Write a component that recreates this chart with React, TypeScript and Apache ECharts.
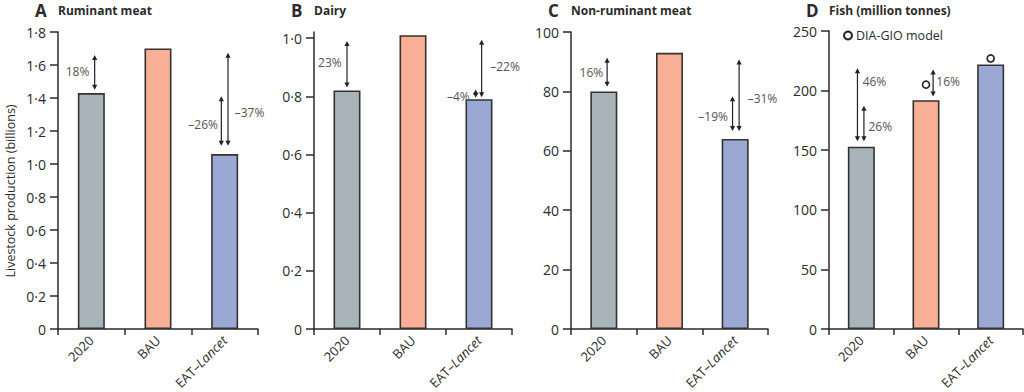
import React, { useEffect, useRef } from "react";
import * as echarts from "echarts";

const categories = ["2020", "BAU", "EAT–Lancet"];
const ruminantValues = [1.43, 1.7, 1.06];
const dairyValues = [0.82, 1.01, 0.79];
const nonRuminantValues = [80, 93, 64];
const fishValues = [153, 192, 222];
const fishDiaGio = [null, 205, 227];

const ticksA = [0, 0.2, 0.4, 0.6, 0.8, 1.0, 1.2, 1.4, 1.6, 1.8];
const ticksB = [0, 0.2, 0.4, 0.6, 0.8, 1.0];
const ticksC = [0, 20, 40, 60, 80, 100];
const ticksD = [0, 50, 100, 150, 200, 250];

// arrows: [x position (category units), lower y, upper y]
const arrowsA = [[0.05, 1.45, 1.66], [1.95, 1.11, 1.41], [2.05, 1.11, 1.675]];
const arrowsB = [[0, 0.83, 0.99], [1.95, 0.795, 0.823], [2.04, 0.797, 0.994]];
const arrowsC = [[0.05, 81.6, 91.3], [1.96, 66.7, 78.4], [2.06, 66.7, 90.7]];
const arrowsD = [[-0.06, 157.5, 218.7], [0.04, 157.5, 187.3], [1.11, 195, 217.8]];

// labels: [x, y, text, align]
const labelsA = [[-0.03, 1.56, "18%", "right"], [1.9, 1.24, "–26%", "right"], [2.15, 1.315, "–37%", "left"]];
const labelsB = [[-0.08, 0.915, "23%", "right"], [1.86, 0.8, "–4%", "right"], [2.17, 0.903, "–22%", "left"]];
const labelsC = [[-0.01, 86.5, "16%", "right"], [1.89, 71.7, "–19%", "right"], [2.19, 77.5, "–31%", "left"]];
const labelsD = [[0.02, 207.5, "46%", "left"], [0.11, 170, "26%", "left"], [1.16, 207.5, "16%", "left"]];

const barColors = ["#a8b4b9", "#f8af95", "#9aa8d3"];
const FONT = "'Open Sans', 'Noto Sans', sans-serif";
const INK = "#2b2b2b";

const panels = [
  { letter: "A", title: "Ruminant meat", values: ruminantValues, ticks: ticksA, max: 1.8, dec: true, arrows: arrowsA, labels: labelsA, left: 58, top: 32, width: 200, height: 299 },
  { letter: "B", title: "Dairy", values: dairyValues, ticks: ticksB, max: 1.021, dec: true, arrows: arrowsB, labels: labelsB, left: 314, top: 32, width: 198, height: 299 },
  { letter: "C", title: "Non-ruminant meat", values: nonRuminantValues, ticks: ticksC, max: 100, dec: false, arrows: arrowsC, labels: labelsC, left: 571, top: 32, width: 197, height: 299 },
  { letter: "D", title: "Fish (million tonnes)", values: fishValues, ticks: ticksD, max: 250, dec: false, arrows: arrowsD, labels: labelsD, left: 829, top: 31, width: 194, height: 300 },
];

function fmt(v: number, dec: boolean) {
  if (v === 0) return "0";
  return dec ? v.toFixed(1).replace(".", "·") : String(Math.round(v));
}

export default function App() {
  const ref = useRef<HTMLDivElement>(null);
  useEffect(() => {
    if (!ref.current) return;
    const chart = echarts.init(ref.current, null, { renderer: "svg" });
    const grid: any[] = [];
    const xAxis: any[] = [];
    const yAxis: any[] = [];
    const series: any[] = [];
    const graphic: any[] = [];

    panels.forEach((p, i) => {
      grid.push({ left: p.left, top: p.top, width: p.width, height: p.height, containLabel: false });
      xAxis.push({
        type: "category",
        gridIndex: i,
        data: categories,
        axisLine: { onZero: false, lineStyle: { color: INK, width: 1.5 } },
        axisTick: { show: true, alignWithLabel: false, length: 6, lineStyle: { color: INK, width: 1.5 } },
        axisLabel: {
          rotate: 45,
          margin: 9,
          color: INK,
          fontSize: 13,
          fontFamily: FONT,
          formatter: (v: string) => (v.indexOf("Lancet") >= 0 ? "EAT–{it|Lancet}" : v),
          rich: { it: { fontStyle: "italic", fontSize: 13, fontFamily: FONT, color: INK } },
        },
      });
      xAxis.push({ type: "value", gridIndex: i, min: -0.5, max: 2.5, show: false, axisLine: { onZero: false } });
      yAxis.push({
        type: "value",
        gridIndex: i,
        min: 0,
        max: p.max,
        splitLine: { show: false },
        axisLine: { show: true, onZero: false, lineStyle: { color: INK, width: 1.5 } },
        axisTick: { show: true, length: 8, customValues: p.ticks, lineStyle: { color: INK, width: 1.5 } },
        axisLabel: {
          customValues: p.ticks,
          margin: 12,
          color: INK,
          fontSize: 14,
          fontFamily: FONT,
          formatter: (v: number) => fmt(v, p.dec),
        },
      });
      series.push({
        type: "bar",
        xAxisIndex: 2 * i,
        yAxisIndex: i,
        barWidth: 27,
        data: p.values.map((v, k) => ({
          value: v,
          itemStyle: { color: barColors[k], borderColor: "#333", borderWidth: 1.6 },
        })),
        itemStyle: { borderColor: "#333", borderWidth: 1.6 },
      });
      const arrows = p.arrows;
      series.push({
        type: "custom",
        xAxisIndex: 2 * i + 1,
        yAxisIndex: i,
        clip: false,
        data: arrows,
        z: 5,
        renderItem: (_params: any, api: any) => {
          const x = api.value(0);
          const lo = api.coord([x, api.value(1)]);
          const hi = api.coord([x, api.value(2)]);
          const h = 5;
          const w = 2.6;
          return {
            type: "group",
            children: [
              { type: "line", shape: { x1: lo[0], y1: lo[1] - 2, x2: hi[0], y2: hi[1] + 2 }, style: { stroke: "#222", lineWidth: 1.2 } },
              { type: "polygon", shape: { points: [[hi[0], hi[1]], [hi[0] - w, hi[1] + h], [hi[0] + w, hi[1] + h]] }, style: { fill: "#222" } },
              { type: "polygon", shape: { points: [[lo[0], lo[1]], [lo[0] - w, lo[1] - h], [lo[0] + w, lo[1] - h]] }, style: { fill: "#222" } },
            ],
          };
        },
      });
      const labels = p.labels;
      series.push({
        type: "custom",
        xAxisIndex: 2 * i + 1,
        yAxisIndex: i,
        clip: false,
        data: labels.map((l) => [l[0], l[1]]),
        z: 6,
        renderItem: (params: any, api: any) => {
          const l = labels[params.dataIndex];
          const pt = api.coord([api.value(0), api.value(1)]);
          return {
            type: "text",
            x: pt[0],
            y: pt[1],
            style: {
              text: l[2] as string,
              textAlign: l[3] as string,
              textVerticalAlign: "middle",
              fontSize: 12,
              fontFamily: FONT,
              fill: "#555",
            },
          };
        },
      });
      graphic.push({
        type: "text",
        x: p.left - 23,
        y: 10,
        style: { text: p.letter, fontSize: 17, fontWeight: "bold", fontFamily: FONT, fill: INK, textVerticalAlign: "middle" },
      });
      graphic.push({
        type: "text",
        x: p.left,
        y: 10,
        style: { text: p.title, fontSize: 12, fontWeight: "bold", fontFamily: FONT, fill: INK, textVerticalAlign: "middle" },
      });
    });

    series.push({
      type: "scatter",
      name: "DIA-GIO model",
      xAxisIndex: 6,
      yAxisIndex: 3,
      symbol: "circle",
      symbolSize: 7,
      z: 7,
      data: fishDiaGio,
      itemStyle: { color: "#fff", borderColor: "#222", borderWidth: 1.6, opacity: 1 },
    });

    graphic.push({
      type: "text",
      x: 10,
      y: 191,
      rotation: Math.PI / 2,
      style: {
        text: "Livestock production (billions)",
        textAlign: "center",
        textVerticalAlign: "middle",
        fontSize: 12.5,
        fontFamily: FONT,
        fill: INK,
      },
    });

    chart.setOption({
      animation: false,
      backgroundColor: "#fff",
      grid,
      xAxis,
      yAxis,
      series,
      graphic,
      legend: {
        left: 838,
        top: 24,
        itemWidth: 8,
        itemHeight: 8,
        itemGap: 4,
        data: [{ name: "DIA-GIO model", icon: "circle" }],
        textStyle: { fontSize: 12.5, fontFamily: FONT, color: INK, padding: [0, 0, 0, -1] },
      },
    });
    return () => chart.dispose();
  }, []);
  return (
    <div
      ref={ref}
      style={{ position: "fixed", left: 0, top: 0, width: 1024, height: 392, background: "#fff" }}
    />
  );
}
